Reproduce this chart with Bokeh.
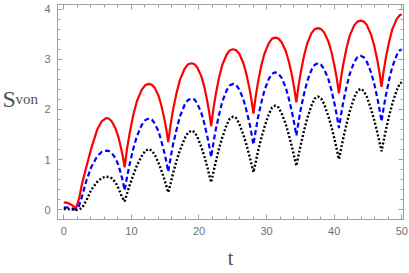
from bokeh.plotting import figure
from bokeh.models import Range1d, LinearAxis, FixedTicker, Label
from bokeh.layouts import row
from bokeh.embed import file_html
from bokeh.resources import INLINE

t = [0, 0.6, 1.2, 1.5, 1.8,
     2.25, 2.7, 3.38, 4.05, 4.95, 5.63, 6.3,
     6.7, 7.11, 7.65, 8.06, 8.46, 8.73, 9.0,
     9.36, 9.72, 10.26, 10.8, 11.52, 12.06, 12.6,
     13.03, 13.46, 14.03, 14.45, 14.88, 15.17, 15.45,
     15.8, 16.14, 16.66, 17.18, 17.87, 18.38, 18.9,
     19.34, 19.77, 20.35, 20.79, 21.22, 21.51, 21.8,
     22.13, 22.45, 22.94, 23.43, 24.08, 24.56, 25.05,
     25.5, 25.95, 26.55, 27.0, 27.45, 27.75, 28.05,
     28.38, 28.7, 29.19, 29.68, 30.33, 30.81, 31.3,
     31.77, 32.23, 32.85, 33.32, 33.78, 34.09, 34.4,
     34.72, 35.04, 35.52, 36.0, 36.64, 37.12, 37.6,
     38.07, 38.53, 39.15, 39.62, 40.08, 40.39, 40.7,
     41.02, 41.34, 41.82, 42.3, 42.94, 43.42, 43.9,
     44.37, 44.83, 45.45, 45.92, 46.38, 46.69, 47.0,
     47.32, 47.64, 48.12, 48.6, 49.24, 49.72, 50.0]

s_red = [0.15, 0.14, 0.1, 0.06, 0.03,
         0.22, 0.52, 0.88, 1.22, 1.6, 1.77, 1.83,
         1.815, 1.76, 1.62, 1.46, 1.24, 1.07, 0.85,
         1.22, 1.51, 1.88, 2.16, 2.39, 2.485, 2.51,
         2.49, 2.43, 2.27, 2.07, 1.81, 1.6, 1.35,
         1.70, 1.98, 2.32, 2.59, 2.81, 2.90, 2.92,
         2.90, 2.83, 2.66, 2.45, 2.17, 1.945, 1.67,
         2.01, 2.28, 2.62, 2.88, 3.09, 3.18, 3.2,
         3.18, 3.11, 2.93, 2.71, 2.43, 2.20, 1.92,
         2.25, 2.52, 2.86, 3.11, 3.32, 3.41, 3.43,
         3.41, 3.34, 3.16, 2.94, 2.66, 2.42, 2.14,
         2.47, 2.73, 3.06, 3.31, 3.52, 3.60, 3.62,
         3.60, 3.53, 3.35, 3.13, 2.84, 2.61, 2.32,
         2.64, 2.90, 3.22, 3.47, 3.67, 3.75, 3.77,
         3.75, 3.68, 3.49, 3.27, 2.98, 2.74, 2.45,
         2.77, 3.03, 3.35, 3.60, 3.80, 3.88, 3.89]

s_blue = [0.05, 0.045, 0.03, 0.015, 0.01,
          0.08, 0.27, 0.6, 0.85, 1.07, 1.16, 1.18,
          1.17, 1.13, 1.03, 0.9, 0.72, 0.57, 0.39,
          0.66, 0.90, 1.21, 1.46, 1.69, 1.79, 1.82,
          1.80, 1.72, 1.56, 1.36, 1.14, 0.96, 0.76,
          1.04, 1.29, 1.59, 1.86, 2.09, 2.19, 2.22,
          2.20, 2.11, 1.93, 1.72, 1.47, 1.27, 1.05,
          1.33, 1.58, 1.88, 2.15, 2.38, 2.48, 2.51,
          2.49, 2.40, 2.21, 1.99, 1.74, 1.53, 1.3,
          1.57, 1.82, 2.12, 2.38, 2.61, 2.71, 2.74,
          2.71, 2.63, 2.43, 2.20, 1.93, 1.72, 1.48,
          1.75, 2.0, 2.30, 2.56, 2.79, 2.89, 2.92,
          2.89, 2.80, 2.60, 2.37, 2.09, 1.88, 1.63,
          1.90, 2.15, 2.45, 2.71, 2.94, 3.04, 3.07,
          3.04, 2.95, 2.74, 2.51, 2.23, 2.01, 1.76,
          2.04, 2.28, 2.59, 2.85, 3.08, 3.18, 3.2]

s_black = [0.02, 0.02, 0.01, 0.005, 0.0,
           0.01, 0.04, 0.2, 0.4, 0.56, 0.64, 0.66,
           0.655, 0.63, 0.55, 0.44, 0.31, 0.23, 0.17,
           0.33, 0.48, 0.69, 0.88, 1.07, 1.18, 1.21,
           1.18, 1.10, 0.93, 0.78, 0.61, 0.48, 0.35,
           0.53, 0.72, 0.97, 1.19, 1.42, 1.54, 1.58,
           1.55, 1.45, 1.25, 1.07, 0.86, 0.70, 0.55,
           0.75, 0.94, 1.21, 1.44, 1.69, 1.82, 1.86,
           1.83, 1.72, 1.50, 1.31, 1.08, 0.92, 0.75,
           0.95, 1.15, 1.42, 1.65, 1.91, 2.04, 2.08,
           2.04, 1.92, 1.70, 1.48, 1.24, 1.06, 0.88,
           1.09, 1.29, 1.57, 1.82, 2.08, 2.22, 2.26,
           2.22, 2.10, 1.86, 1.64, 1.39, 1.20, 1.01,
           1.22, 1.43, 1.71, 1.96, 2.23, 2.37, 2.41,
           2.37, 2.25, 2.01, 1.79, 1.54, 1.36, 1.17,
           1.38, 1.59, 1.87, 2.12, 2.38, 2.52, 2.54]

x_ticks = [0, 10, 20, 30, 40, 50]
x_minor = [i * 2 for i in range(26)]
y_ticks = [0, 1, 2, 3, 4]
y_minor = [round(i * 0.2, 1) for i in range(21)]

FRAME = "#a0a0a0"
LABEL = "#707070"
TITLE = "#505050"
H = 272
LW = 40

p = figure(width=408 - LW, height=H, output_backend="svg", toolbar_location=None,
           x_range=Range1d(-0.93, 50.25), y_range=Range1d(-0.19, 4.09),
           min_border_left=57 - LW, min_border_right=5, min_border_top=4,
           min_border_bottom=H - 219,
           x_axis_location=None, y_axis_location=None)
p.grid.visible = False
p.outline_line_color = FRAME
p.outline_line_width = 1
p.background_fill_color = "white"
p.border_fill_color = "white"


def make_axis(ticks, minor, show_labels):
    ax = LinearAxis(ticker=FixedTicker(ticks=ticks, minor_ticks=minor))
    ax.axis_line_color = FRAME
    ax.major_tick_line_color = FRAME
    ax.minor_tick_line_color = FRAME
    ax.major_tick_in = 5
    ax.major_tick_out = 0
    ax.minor_tick_in = 3
    ax.minor_tick_out = 0
    if show_labels:
        ax.major_label_text_font = "Liberation Sans"
        ax.major_label_text_font_size = "11px"
        ax.major_label_text_color = LABEL
        ax.major_label_standoff = 7
    else:
        ax.major_label_text_font_size = "0px"
        ax.major_label_standoff = 0
        ax.major_label_text_color = None
    return ax


xb = make_axis(x_ticks, x_minor, True)
xb.axis_label = "t"
xb.axis_label_text_font = "Liberation Serif"
xb.axis_label_text_font_size = "20px"
xb.axis_label_text_font_style = "normal"
xb.axis_label_text_color = TITLE
xb.axis_label_standoff = 9
p.add_layout(xb, "below")
p.add_layout(make_axis(y_ticks, y_minor, True), "left")
p.add_layout(make_axis(x_ticks, x_minor, False), "above")
p.add_layout(make_axis(y_ticks, y_minor, False), "right")

p.line(t, s_red, line_color="#ff0000", line_width=2.2)
p.line(t, s_blue, line_color="#0000ff", line_width=2.2, line_dash="5 3")
p.line(t, s_black, line_color="#000000", line_width=2.4, line_dash="2 2")

# side panel holding the y-axis title S_von
lab = figure(width=LW, height=H, output_backend="svg", toolbar_location=None,
             x_range=Range1d(0, LW), y_range=Range1d(0, H),
             min_border=0, x_axis_location=None, y_axis_location=None)
lab.grid.visible = False
lab.outline_line_color = None
lab.background_fill_color = "white"
lab.border_fill_color = "white"
lab.add_layout(Label(x=2, y=H - 119.5, text="S", text_font="Liberation Serif",
                     text_font_size="24px", text_color=TITLE,
                     text_baseline="alphabetic", text_align="left"))
lab.add_layout(Label(x=15, y=H - 119.5, text="von", text_font="Liberation Serif",
                     text_font_size="15px", text_color=TITLE,
                     text_baseline="alphabetic", text_align="left"))

layout = row(lab, p, spacing=0)
open("out.html", "w").write(file_html(layout, INLINE))
